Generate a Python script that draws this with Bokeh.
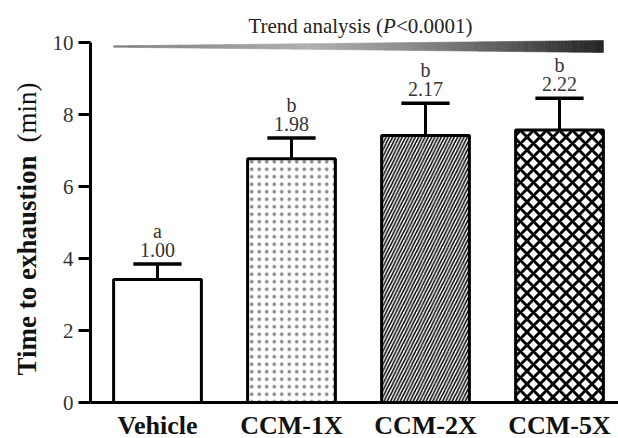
import math
from bokeh.plotting import figure, ColumnDataSource
from bokeh.models import Range1d, FixedTicker
from bokeh.embed import file_html
from bokeh.resources import INLINE
from bokeh.core.properties import value

# ---- data ----
categories = ["Vehicle", "CCM-1X", "CCM-2X", "CCM-5X"]
means = [3.42, 6.77, 7.42, 7.57]
sems = [0.43, 0.58, 0.89, 0.88]
letters = ["a", "b", "b", "b"]
folds = ["1.00", "1.98", "2.17", "2.22"]
y_ticks = [0, 2, 4, 6, 8, 10]

# ---- styles ----
HATCH = [" ", ".", "/", "x"]
HSCALE = [8, 7.5, 6.5, 13]
HWEIGHT = [1, 0.8, 1.5, 3]
HCOLOR = ["black", "#8a8a8a", "black", "black"]
BAR_W = 0.655
CAP_W = 0.36
SERIF = "Liberation Serif"

W, H = 618, 438
PX_X = 134.0    # pixels per category step
PX_Y = 36.0     # pixels per y unit
AX_X, AX_Y = 90, 402   # pixel position of the axes origin

idx = list(range(len(categories)))
upper = [m + s for m, s in zip(means, sems)]

src = ColumnDataSource(dict(x=idx, top=means, upper=upper, hatch=HATCH,
                            hscale=HSCALE, hweight=HWEIGHT, hcolor=HCOLOR,
                            cl=[i - CAP_W / 2 for i in idx], cr=[i + CAP_W / 2 for i in idx],
                            letters=letters, folds=folds))

x0 = -0.5 - AX_X / PX_X
x1 = -0.5 + (W - AX_X) / PX_X
y0 = -(H - AX_Y) / PX_Y
y1 = AX_Y / PX_Y

def dx(px):
    return x0 + px / PX_X

def dy(py):
    return (AX_Y - py) / PX_Y

p = figure(width=W, height=H, x_range=Range1d(x0, x1), y_range=Range1d(y0, y1),
           output_backend="svg", toolbar_location=None,
           min_border_left=0, min_border_right=0, min_border_top=0, min_border_bottom=0)
p.outline_line_color = None
p.grid.visible = False
p.background_fill_color = "white"
p.border_fill_color = "white"

# trend wedge (decorative gradient spanning first to last bar)
wx0 = idx[0] - BAR_W / 2
wx1 = idx[-1] + BAR_W / 2
wy = dy(46)
h0, h1 = 0.7 / PX_Y, 6.0 / PX_Y
stops = [(0.0, 125), (0.2, 150), (0.4, 175), (0.6, 140), (0.8, 90), (1.0, 35)]
def gray(f):
    for (a, ga), (b, gb) in zip(stops[:-1], stops[1:]):
        if a <= f <= b:
            g = int(round(ga + (gb - ga) * (f - a) / (b - a)))
            return "#%02x%02x%02x" % (g, g, g)
    return "#000000"
N = 150
xs, ys, cs = [], [], []
for i in range(N):
    fa, fb = i / N, (i + 1) / N
    xa = wx0 + (wx1 - wx0) * fa
    xb = wx0 + (wx1 - wx0) * fb
    ha = h0 + (h1 - h0) * fa
    hb = h0 + (h1 - h0) * fb
    xs.append([xa, xb, xb, xa])
    ys.append([wy - ha, wy - hb, wy + hb, wy + ha])
    cs.append(gray((fa + fb) / 2))
p.patches(xs, ys, fill_color=cs, line_color=cs, line_width=0.6)

# bars
p.vbar(x="x", top="top", bottom=0, width=BAR_W, source=src,
       fill_color="white", line_color="black", line_width=3,
       hatch_pattern="hatch", hatch_scale="hscale", hatch_weight="hweight",
       hatch_color="hcolor")

# error bars (upper only)
p.segment(x0="x", y0="top", x1="x", y1="upper", source=src, line_color="black", line_width=3)
p.segment(x0="cl", y0="upper", x1="cr", y1="upper", source=src, line_color="black", line_width=3.5)

# annotations above bars
p.text(x="x", y="upper", text="folds", source=src, y_offset=-14,
       text_align="center", text_baseline="alphabetic",
       text_font=value(SERIF), text_font_size="20px", text_color="#333333")
p.text(x="x", y="upper", text="letters", source=src, y_offset=-33,
       text_align="center", text_baseline="alphabetic",
       text_font=value(SERIF), text_font_size="20px", text_color="#333333")

# trend text
mid = (idx[0] + idx[-1]) / 2
ty = dy(25)
common = dict(text_baseline="alphabetic", text_font=value(SERIF),
              text_font_size="21px", text_color="#222222")
p.text(x=[mid], y=[ty], text=["Trend analysis ("], x_offset=24.5, text_align="right", **common)
p.text(x=[mid], y=[ty], text=["P"], x_offset=24.5, text_align="left",
       text_font_style="italic", **common)
p.text(x=[mid], y=[ty], text=["<0.0001)"], x_offset=37.5, text_align="left", **common)

# y axis title (bold + normal parts), rotated
lx = dx(26)
p.text(x=[lx], y=[dy(375)], text=["Time to exhaustion"], angle=math.pi / 2,
       text_align="left", text_baseline="alphabetic", text_font=value(SERIF),
       text_font_size="27px", text_font_style="bold", text_color="#111111")
p.text(x=[lx], y=[dy(82)], text=["(min)"], angle=math.pi / 2,
       text_align="right", text_baseline="alphabetic", text_font=value(SERIF),
       text_font_size="27px", text_color="#111111")

# axes, fixed at the data origin
ya = p.yaxis[0]
ya.fixed_location = -0.5
ya.ticker = FixedTicker(ticks=y_ticks)
ya.bounds = (0, 10)
ya.axis_line_width = 3
ya.major_tick_line_width = 3
ya.major_tick_out = 12
ya.major_tick_in = 0
ya.minor_tick_line_color = None
ya.major_label_standoff = 5
ya.major_label_text_font = SERIF
ya.major_label_text_font_size = "21px"
ya.major_label_text_color = "#333333"

xa = p.xaxis[0]
xa.fixed_location = 0
xa.bounds = (-0.5, x1)
xa.ticker = FixedTicker(ticks=idx)
xa.major_label_overrides = {i: c for i, c in zip(idx, categories)}
xa.axis_line_width = 3
xa.major_tick_out = 0
xa.major_tick_in = 0
xa.major_tick_line_color = None
xa.minor_tick_line_color = None
xa.major_label_standoff = 8
xa.major_label_text_font = SERIF
xa.major_label_text_font_size = "26px"
xa.major_label_text_font_style = "bold"
xa.major_label_text_color = "#111111"

open("out.html", "w").write(file_html(p, INLINE))
